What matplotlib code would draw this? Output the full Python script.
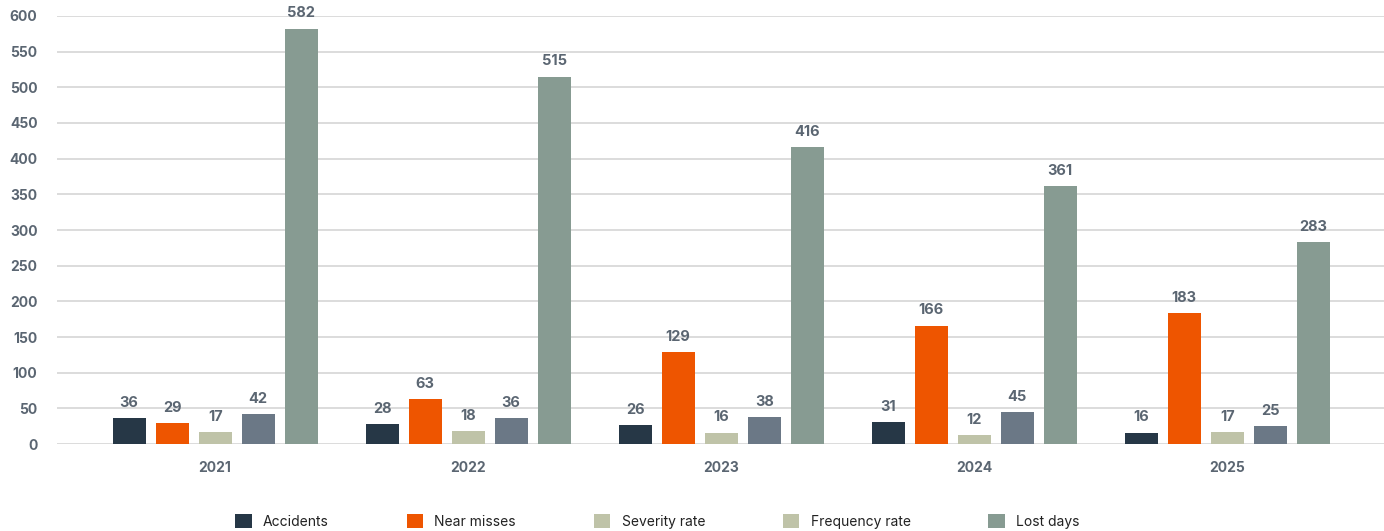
import numpy as np
import matplotlib.pyplot as plt
from matplotlib.patches import Patch

years = ['2021', '2022', '2023', '2024', '2025']
series_names = ['Accidents', 'Near misses', 'Severity rate', 'Frequency rate', 'Lost days']
accidents = [36, 28, 26, 31, 16]
near_misses = [29, 63, 129, 166, 183]
severity_rate = [17, 18, 16, 12, 17]
frequency_rate = [42, 36, 38, 45, 25]
lost_days = [582, 515, 416, 361, 283]

series = [accidents, near_misses, severity_rate, frequency_rate, lost_days]
bar_colors = ['#263746', '#ee5500', '#bfc3a8', '#6b7886', '#879b92']
legend_colors = ['#263746', '#ee5500', '#bfc3a8', '#bfc3a8', '#879b92']
text_color = '#5b6672'

plt.rcParams['font.family'] = ['Inter', 'DejaVu Sans']

fig = plt.figure(figsize=(13.84, 5.31), dpi=100)
ax = fig.add_axes([0.0412, 0.1638, 0.9588, 0.8061])

x = np.arange(len(years))
width = 0.13
step = 0.17
for i, (vals, col) in enumerate(zip(series, bar_colors)):
    pos = x + (i - 2) * step
    ax.bar(pos, vals, width=width, color=col, zorder=3)
    for px, v in zip(pos, vals):
        ax.annotate(str(v), (px, v), xytext=(0, 6), textcoords='offset points',
                    ha='center', va='bottom', fontsize=10.5, fontweight='bold',
                    color=text_color)

ax.set_ylim(0, 600)
ax.set_xlim(-0.625, 4.62)
ax.set_yticks(np.arange(0, 601, 50))
ax.yaxis.grid(True, color='#d9d9d9', linewidth=1.3, zorder=0)
ax.set_axisbelow(True)
for s in ax.spines.values():
    s.set_visible(False)
ax.tick_params(axis='y', length=0, pad=14, labelsize=10, labelcolor=text_color)
ax.tick_params(axis='x', length=0, pad=12, labelsize=10, labelcolor=text_color)
for lbl in ax.get_yticklabels():
    lbl.set_fontweight('bold')
ax.set_xticks(x)
ax.set_xticklabels(years, fontweight='bold')

handles = [Patch(facecolor=c, edgecolor='none') for c in legend_colors]
fig.legend(handles, series_names, loc='center', bbox_to_anchor=(0.475, 0.018),
           ncol=5, frameon=False, fontsize=10, handlelength=1.2, handleheight=1.2,
           handletextpad=0.8, columnspacing=5.6, labelcolor='#222222')

fig.savefig('out.png', dpi=100)
